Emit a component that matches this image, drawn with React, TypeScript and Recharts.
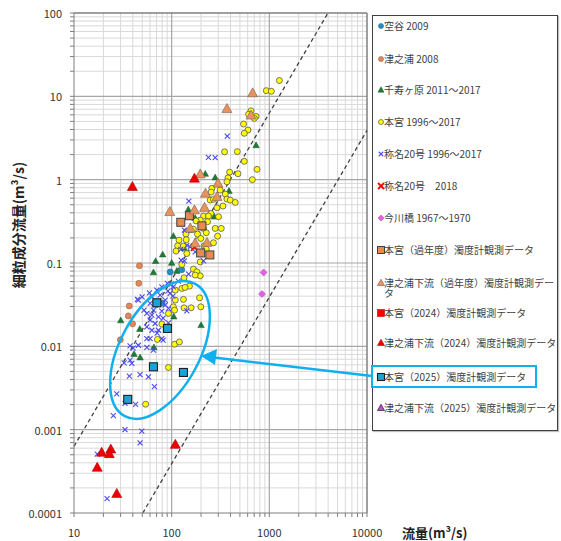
import React from 'react';
import { ScatterChart, Scatter, XAxis, YAxis, ReferenceLine } from 'recharts';

type P = [number, number];

// 流量 (m3/s), 細粒成分流量 (m3/s)
const soratani2009: P[] = [[96.5, 0.078], [127, 0.083], [80, 0.033]];
const tsunoura2008: P[] = [[46.8, 0.093], [46.1, 0.057], [36.8, 0.0305], [36, 0.0232], [39.8, 0.0186], [29.8, 0.012]];
const senjugahara: P[] = [
  [731, 2.58], [221, 1.17], [279, 1.06], [386, 0.73], [148, 0.438], [273, 0.359], [174, 0.346], [152, 0.248],
  [104, 0.21], [134, 0.151], [80.9, 0.126], [68.5, 0.105], [100, 0.1], [65.1, 0.077], [113, 0.08], [30.1, 0.0204],
  [47.2, 0.0161], [105, 0.0227], [200, 0.0179], [65.8, 0.0097], [41.2, 0.00806], [47.5, 0.00732],
];
const hongu: P[] = [
  [1267, 15.5], [931, 11.7], [1049, 11.5], [649, 6.7], [614, 6.1], [731, 5.75], [702, 5.44], [545, 4.65], [605, 3.94],
  [554, 3.6], [348, 2.16], [470, 2.17], [554, 1.66], [748, 1.33], [392, 1.23], [477, 1.18], [377, 1.05], [670, 1.0],
  [368, 0.944], [258, 0.787], [314, 0.75], [254, 0.71], [354, 0.671], [368, 0.585], [398, 0.569], [448, 0.533],
  [248, 0.569], [268, 0.58], [291, 0.46], [335, 0.482], [252, 0.394], [212, 0.366], [238, 0.366], [302, 0.359],
  [196, 0.327], [233, 0.313], [212, 0.26], [279, 0.26], [322, 0.26], [167, 0.255], [141, 0.237], [140, 0.222],
  [184, 0.222], [226, 0.231], [199, 0.197], [295, 0.21], [268, 0.175], [215, 0.161], [115, 0.161], [132, 0.16],
  [143, 0.13], [111, 0.139], [196, 0.103], [226, 0.147], [127, 0.096], [167, 0.0845], [181, 0.0784], [196, 0.0702],
  [134, 0.0664], [174, 0.0716], [152, 0.0528], [127, 0.0495], [109, 0.0473], [193, 0.0382], [109, 0.0359],
  [132, 0.0366], [104, 0.0298], [134, 0.029], [158, 0.029], [199, 0.0298], [107, 0.0272], [71.5, 0.0121],
  [107, 0.0106], [120, 0.0113], [92.7, 0.00558], [54.1, 0.00202], [79.3, 0.0185], [92.7, 0.0248], [137, 0.0509],
  [167, 0.16], [178, 0.32], [141, 0.19], [119, 0.188],
];
const shomyo: P[] = [
  [371, 3.34], [238, 1.85], [279, 1.84], [150, 0.553], [135, 0.248], [143, 0.163], [155, 0.156], [174, 0.136],
  [196, 0.13], [125, 0.108], [135, 0.106], [212, 0.106], [149, 0.0736], [124, 0.146], [90.6, 0.0569], [79.3, 0.0518],
  [70.5, 0.0473], [104, 0.0518], [96.5, 0.0432], [59.2, 0.0439], [49.8, 0.0393], [45.6, 0.0359], [60.2, 0.0327],
  [85.8, 0.0359], [65.1, 0.0272], [79.3, 0.0265], [92.7, 0.0285], [55.7, 0.0248], [73.2, 0.0226], [60.2, 0.0207],
  [67.7, 0.0188], [92.7, 0.0191], [55.7, 0.0171], [62.7, 0.0156], [73.2, 0.0156], [79.3, 0.0124], [60.2, 0.0124],
  [45.6, 0.0103], [55.7, 0.0097], [37.5, 0.00683], [32.6, 0.00634], [39.1, 0.00625], [65.1, 0.009], [36.9, 0.00439],
  [47.5, 0.00457], [57.8, 0.0043], [66.6, 0.00328], [27.4, 0.00269], [33.3, 0.00207], [42.7, 0.00201],
  [25.3, 0.00147], [33.3, 0.001], [49.5, 0.00096], [47.5, 0.000695], [17.3, 0.000508], [21.8, 0.000149],
  [44.6, 0.0366], [98.8, 0.0558], [91.4, 0.046], [143, 0.0267], [62.7, 0.0237], [55.7, 0.0124], [37.5, 0.0101],
  [76.2, 0.0412], [85.8, 0.0312], [67.7, 0.0312], [81.8, 0.0218], [71, 0.0144], [63.1, 0.0392], [52.2, 0.0272],
  [103, 0.04], [117, 0.0607], [81.8, 0.0119], [40.3, 0.0095],
];
const shomyo2018: P[] = [[171, 0.154]];
const imagawa: P[] = [[874, 0.077], [841, 0.0424]];
const honguPast: P[] = [[152, 0.369], [124, 0.308], [204, 0.279], [198, 0.132], [246, 0.125]];
const tsunouraPast: P[] = [
  [675, 10.9], [368, 7.05], [649, 5.9], [196, 1.16], [298, 0.9], [291, 0.62], [222, 0.68], [95.7, 0.41],
  [171, 0.43], [217, 0.46], [155, 0.26], [230, 0.175], [174, 0.172],
];
const hongu2024: P[] = [];
const tsunoura2024: P[] = [
  [39.6, 0.82], [171, 1.03], [19.2, 0.00053], [23.8, 0.00058], [23, 0.00051], [17.3, 0.00035], [27.4, 0.00017], [109, 0.00066],
];
const hongu2025: P[] = [[70.5, 0.0333], [90.6, 0.0164], [65.1, 0.00568], [132, 0.00486], [35.5, 0.00231]];
const tsunoura2025: P[] = [];

// reference lines (C = a Q^2) endpoints
const upperLine: P[] = [[10, 0.00063], [3984, 100]];
const lowerLine: P[] = [[50.6, 0.0001], [10000, 3.9]];

const xMajor = [10, 100, 1000, 10000];
const yMajor = [0.0001, 0.001, 0.01, 0.1, 1, 10, 100];
const minorOf = (majors: number[]) => {
  const out: number[] = [];
  for (let i = 0; i < majors.length - 1; i++) for (let k = 2; k <= 9; k++) out.push(+(majors[i] * k).toPrecision(6));
  return out;
};
const xMinor = minorOf(xMajor);
const yMinor = minorOf(yMajor);

const FONT = '"Noto Sans CJK JP", "Noto Sans", sans-serif';

type ShapeKind = 'circle' | 'tri' | 'square' | 'x' | 'diamond';
interface Style { kind: ShapeKind; size: number; fill: string; stroke: string; sw?: number }

const drawShape = (cx: number, cy: number, s: Style) => {
  const h = s.size / 2;
  const sw = s.sw ?? 0.8;
  switch (s.kind) {
    case 'circle':
      return <circle cx={cx} cy={cy} r={h} fill={s.fill} stroke={s.stroke} strokeWidth={sw} />;
    case 'square':
      return <rect x={cx - h} y={cy - h} width={s.size} height={s.size} fill={s.fill} stroke={s.stroke} strokeWidth={sw} />;
    case 'diamond':
      return <polygon points={`${cx},${cy - h} ${cx + h},${cy} ${cx},${cy + h} ${cx - h},${cy}`} fill={s.fill} stroke={s.stroke} strokeWidth={sw} />;
    case 'tri': {
      const hh = s.size * 0.9;
      return <polygon points={`${cx},${cy - hh * 0.6} ${cx + h},${cy + hh * 0.4} ${cx - h},${cy + hh * 0.4}`} fill={s.fill} stroke={s.stroke} strokeWidth={sw} />;
    }
    case 'x':
      return (
        <g stroke={s.stroke} strokeWidth={sw}>
          <line x1={cx - h} y1={cy - h} x2={cx + h} y2={cy + h} />
          <line x1={cx - h} y1={cy + h} x2={cx + h} y2={cy - h} />
        </g>
      );
  }
  return null;
};

interface SeriesDef { name: string; data: P[]; style: Style; legend: Style }

const series: SeriesDef[] = [
  { name: '空谷 2009', data: soratani2009, style: { kind: 'circle', size: 6, fill: '#1f8fc4', stroke: '#1a6f99', sw: 0.6 }, legend: { kind: 'circle', size: 5, fill: '#1f8fc4', stroke: '#1a6f99', sw: 0.6 } },
  { name: '津之浦 2008', data: tsunoura2008, style: { kind: 'circle', size: 6, fill: '#e0895a', stroke: '#9a5a35', sw: 0.6 }, legend: { kind: 'circle', size: 5, fill: '#e0895a', stroke: '#9a5a35', sw: 0.6 } },
  { name: '千寿ヶ原 2011～2017', data: senjugahara, style: { kind: 'tri', size: 6.5, fill: '#1e7a3a', stroke: '#145a28', sw: 0.5 }, legend: { kind: 'tri', size: 6, fill: '#1e7a3a', stroke: '#145a28', sw: 0.5 } },
  { name: '本宮 1996～2017', data: hongu, style: { kind: 'circle', size: 6, fill: '#ffff00', stroke: '#555555', sw: 0.8 }, legend: { kind: 'circle', size: 5, fill: '#ffff00', stroke: '#555555', sw: 0.7 } },
  { name: '称名20号 1996～2017', data: shomyo, style: { kind: 'x', size: 5, fill: 'none', stroke: '#4b4bf0', sw: 1.1 }, legend: { kind: 'x', size: 4.5, fill: 'none', stroke: '#4b4bf0', sw: 1.1 } },
  { name: '称名20号　2018', data: shomyo2018, style: { kind: 'x', size: 7, fill: 'none', stroke: '#ff0000', sw: 1.8 }, legend: { kind: 'x', size: 6, fill: 'none', stroke: '#ff0000', sw: 1.8 } },
  { name: '今川橋 1967～1970', data: imagawa, style: { kind: 'diamond', size: 7, fill: '#e65ee6', stroke: '#b040b0', sw: 0.5 }, legend: { kind: 'diamond', size: 6, fill: '#e65ee6', stroke: '#b040b0', sw: 0.5 } },
  { name: '本宮（過年度）濁度計観測データ', data: honguPast, style: { kind: 'square', size: 8, fill: '#e8894f', stroke: '#404040', sw: 1 }, legend: { kind: 'square', size: 7, fill: '#e8894f', stroke: '#404040', sw: 1 } },
  { name: '津之浦下流（過年度）濁度計観測データ', data: tsunouraPast, style: { kind: 'tri', size: 10, fill: '#e8935e', stroke: '#8a6a55', sw: 0.7 }, legend: { kind: 'tri', size: 7, fill: '#e8935e', stroke: '#8a6a55', sw: 0.7 } },
  { name: '本宮（2024）濁度計観測データ', data: hongu2024, style: { kind: 'square', size: 8, fill: '#ff0000', stroke: '#c00000', sw: 0.6 }, legend: { kind: 'square', size: 7, fill: '#ff0000', stroke: '#c00000', sw: 0.6 } },
  { name: '津之浦下流（2024）濁度計観測データ', data: tsunoura2024, style: { kind: 'tri', size: 10, fill: '#ee0000', stroke: '#b00000', sw: 0.6 }, legend: { kind: 'tri', size: 7, fill: '#ee0000', stroke: '#b00000', sw: 0.6 } },
  { name: '本宮（2025）濁度計観測データ', data: hongu2025, style: { kind: 'square', size: 8, fill: '#1aa3d6', stroke: '#1f1f1f', sw: 1.1 }, legend: { kind: 'square', size: 7, fill: '#1aa3d6', stroke: '#1f1f1f', sw: 1.1 } },
  { name: '津之浦下流（2025）濁度計観測データ', data: tsunoura2025, style: { kind: 'tri', size: 10, fill: '#cc44dd', stroke: '#333333', sw: 0.8 }, legend: { kind: 'tri', size: 7, fill: '#cc44dd', stroke: '#333333', sw: 0.8 } },
];

const legendY = [26, 59, 90, 122, 154, 186, 218, 250, 283, 313, 343, 377, 408];

const XTick = (props: any) => {
  const { x, y, payload } = props;
  if (!xMajor.includes(payload.value)) return null;
  return (
    <text x={x} y={y} textAnchor="middle" dominantBaseline="central" fontSize={11} fill="#333" fontFamily={FONT}>
      {String(payload.value)}
    </text>
  );
};
const YTick = (props: any) => {
  const { x, y, payload } = props;
  if (!yMajor.includes(payload.value)) return null;
  return (
    <text x={x} y={y} textAnchor="end" dominantBaseline="central" fontSize={11} fill="#333" fontFamily={FONT}>
      {String(payload.value)}
    </text>
  );
};

const textStyle: React.CSSProperties = {
  position: 'absolute',
  left: 11,
  top: 0,
  fontSize: 10,
  lineHeight: '10px',
  color: '#404040',
  whiteSpace: 'nowrap',
  fontFamily: FONT,
};

export default function App() {
  return (
    <div style={{ position: 'absolute', left: 0, top: 0, width: 561, height: 541, background: '#fff', fontFamily: FONT }}>
      <ScatterChart width={561} height={541} margin={{ top: 13, right: 194, bottom: 0, left: 0 }}>
        <XAxis
          type="number"
          dataKey="x"
          scale="log"
          domain={[10, 10000]}
          allowDataOverflow
          ticks={[...xMajor, ...xMinor]}
          interval={0}
          height={28}
          tickSize={4}
          tickMargin={15}
          tick={<XTick />}
          axisLine={{ stroke: '#7f7f7f' }}
          tickLine={{ stroke: '#7f7f7f' }}
        />
        <YAxis
          type="number"
          dataKey="y"
          scale="log"
          domain={[0.0001, 100]}
          allowDataOverflow
          ticks={[...yMajor, ...yMinor]}
          interval={0}
          width={74}
          tickSize={4}
          tickMargin={8}
          tick={<YTick />}
          axisLine={{ stroke: '#7f7f7f' }}
          tickLine={{ stroke: '#7f7f7f' }}
        />
        {xMinor.map((v) => (
          <ReferenceLine key={'xm' + v} x={v} stroke="#d9d9d9" strokeWidth={1} ifOverflow="visible" />
        ))}
        {yMinor.map((v) => (
          <ReferenceLine key={'ym' + v} y={v} stroke="#d9d9d9" strokeWidth={1} ifOverflow="visible" />
        ))}
        {xMajor.slice(1, 3).map((v) => (
          <ReferenceLine key={'xM' + v} x={v} stroke="#a6a6a6" strokeWidth={1.2} ifOverflow="visible" />
        ))}
        {yMajor.slice(1, 6).map((v) => (
          <ReferenceLine key={'yM' + v} y={v} stroke="#a6a6a6" strokeWidth={1.2} ifOverflow="visible" />
        ))}
        <ReferenceLine y={100} stroke="#7f7f7f" strokeWidth={1.5} ifOverflow="visible" />
        <ReferenceLine x={10000} stroke="#7f7f7f" strokeWidth={1.5} ifOverflow="visible" />
        <ReferenceLine
          segment={upperLine.map(([x, y]) => ({ x, y }))}
          stroke="#404040"
          strokeWidth={1.3}
          strokeDasharray="4 3"
          ifOverflow="visible"
        />
        <ReferenceLine
          segment={lowerLine.map(([x, y]) => ({ x, y }))}
          stroke="#404040"
          strokeWidth={1.3}
          strokeDasharray="4 3"
          ifOverflow="visible"
        />
        {series.map((s) => (
          <Scatter
            key={s.name}
            name={s.name}
            data={s.data.map(([x, y]) => ({ x, y }))}
            isAnimationActive={false}
            shape={(p: any) => drawShape(p.cx, p.cy, s.style)}
          />
        ))}
      </ScatterChart>

      {/* axis titles */}
      <svg width={561} height={541} style={{ position: 'absolute', left: 0, top: 0, pointerEvents: 'none' }}>
        <text
          x={18}
          y={225}
          transform="rotate(-90 18 225)"
          textAnchor="middle"
          dominantBaseline="central"
          fontSize={14}
          fontWeight="bold"
          fill="#222"
          fontFamily={FONT}
        >
          細粒成分流量(m³/s)
        </text>
        <text x={402} y={532} dominantBaseline="central" fontSize={13} fontWeight="bold" fill="#222" fontFamily={FONT}>
          流量(m³/s)
        </text>
      </svg>

      {/* legend */}
      <div
        style={{
          position: 'absolute',
          left: 372,
          top: 15,
          width: 186,
          height: 416,
          boxSizing: 'border-box',
          border: '1px solid #404040',
          boxShadow: '1px 1px 1px rgba(0,0,0,0.25)',
          background: '#fff',
        }}
      >
        {series.map((s, i) => {
          const cy = legendY[i] - 16;
          const wrap = i === 8;
          return (
            <div key={s.name} style={{ position: 'absolute', left: 0, top: cy - 5, width: 184, height: 10 }}>
              <svg width={10} height={10} style={{ position: 'absolute', left: 3, top: 0 }}>
                {drawShape(5, 5, s.legend)}
              </svg>
              {wrap ? (
                <div style={{ ...textStyle, whiteSpace: 'normal', width: 172, wordBreak: 'break-all' }}>{s.name}</div>
              ) : (
                <div style={textStyle}>{s.name}</div>
              )}
            </div>
          );
        })}
      </div>

      {/* annotations */}
      <svg width={561} height={541} style={{ position: 'absolute', left: 0, top: 0, pointerEvents: 'none' }}>
        <ellipse cx={160} cy={350} rx={75} ry={40} transform="rotate(-62 160 350)" fill="none" stroke="#10b0ee" strokeWidth={2.5} />
        <line x1={372} y1={376} x2={214} y2={357.5} stroke="#10b0ee" strokeWidth={2.5} />
        <polygon points="201,356 217,349 215,365" fill="#10b0ee" />
        <rect x={372} y={366} width={164} height={21} fill="none" stroke="#10b0ee" strokeWidth={2} />
      </svg>
    </div>
  );
}
